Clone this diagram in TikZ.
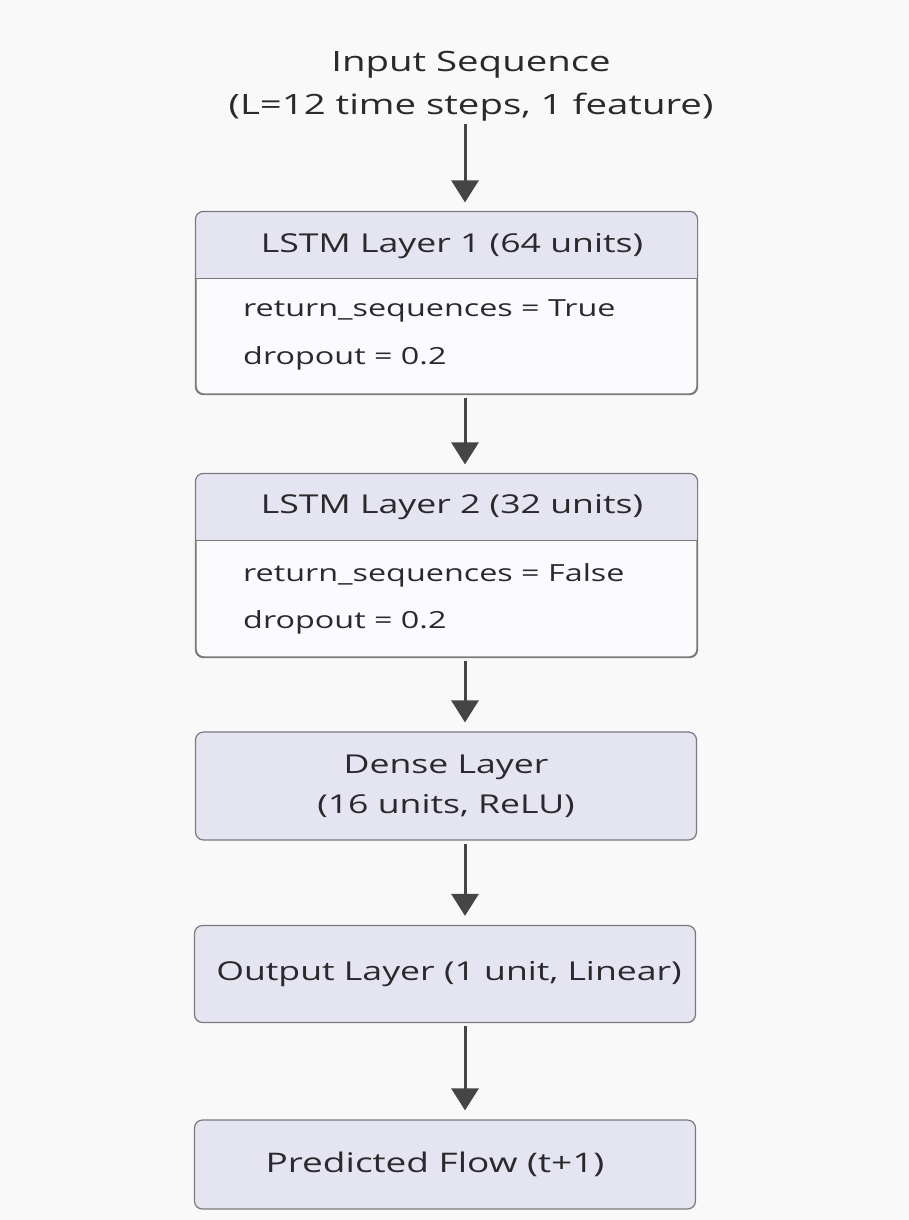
\documentclass[tikz,border=0pt]{standalone}
\usepackage{fontspec}
\setmainfont{Open Sans}[FakeStretch=1.37]
\usetikzlibrary{arrows.meta,calc}
\definecolor{pagebg}{HTML}{F9F9FA}
\definecolor{headfill}{HTML}{E4E5F1}
\definecolor{bodyfill}{HTML}{FBFBFD}
\definecolor{edge}{HTML}{7A7A7E}
\definecolor{ink}{HTML}{2A2A2C}
\definecolor{arrowc}{HTML}{454547}
\tikzset{
  layerbox/.style={draw=edge, line width=1.2pt, rounded corners=8pt, fill=bodyfill,
    minimum width=501pt, inner sep=0pt},
  solidbox/.style={layerbox, fill=headfill, text=ink},
  label/.style={text=ink, font=\fontsize{26}{30}\selectfont, inner sep=0pt},
  param/.style={label, anchor=west, font=\fontsize{23.6}{28}\selectfont},
  flow/.style={draw=arrowc, line width=3pt,
    -{Triangle[width=27pt,length=22pt]}, shorten <=3pt, shorten >=9pt},
}
\begin{document}
\begin{tikzpicture}[x=1pt,y=-1pt]
  \fill[pagebg] (0,0) rectangle (909,1220);
  \useasboundingbox (0,0) rectangle (909,1220);

  % input description
  \node[label, align=center, font=\fontsize{28}{43}\selectfont] (inp) at (471,86)
    {Input Sequence\\(L=12 time steps, 1 feature)};

  % first LSTM layer
  \node[layerbox, minimum height=182pt] (l1) at (446.5,303) {};
  \begin{scope}
    \clip[rounded corners=8pt] (l1.north west) rectangle (l1.south east);
    \fill[headfill] (l1.north west) rectangle ($(l1.north east)+(0,67)$);
  \end{scope}
  \draw[edge, line width=1.2pt] ($(l1.north west)+(0,67)$) -- ($(l1.north east)+(0,67)$);
  \draw[edge, line width=1.2pt, rounded corners=8pt] (l1.north west) rectangle (l1.south east);
  \node[label] (l1h) at (452,246) {LSTM Layer 1 (64 units)};
  \node[param] (l1a) at (243,311) {return\_sequences = True};
  \node[param] (l1b) at (243,358) {dropout = 0.2};

  % second LSTM layer
  \node[layerbox, minimum height=183pt] (l2) at (446.5,565.5) {};
  \begin{scope}
    \clip[rounded corners=8pt] (l2.north west) rectangle (l2.south east);
    \fill[headfill] (l2.north west) rectangle ($(l2.north east)+(0,67)$);
  \end{scope}
  \draw[edge, line width=1.2pt] ($(l2.north west)+(0,67)$) -- ($(l2.north east)+(0,67)$);
  \draw[edge, line width=1.2pt, rounded corners=8pt] (l2.north west) rectangle (l2.south east);
  \node[label] (l2h) at (452,507) {LSTM Layer 2 (32 units)};
  \node[param] (l2a) at (243,575) {return\_sequences = False};
  \node[param] (l2b) at (243,622) {dropout = 0.2};

  % dense, output and prediction
  \node[solidbox, minimum height=108pt, align=center,
        font=\fontsize{26}{40}\selectfont] (dense) at (446,786)
    {Dense Layer\\(16 units, ReLU)};
  \node[solidbox, minimum height=97pt,
        font=\fontsize{26}{30}\selectfont] (out) at (445,974)
    {\hspace*{8pt}Output Layer (1 unit, Linear)};
  \node[solidbox, minimum height=89pt,
        font=\fontsize{27}{30}\selectfont] (pred) at (445,1164.5)
    {Predicted Flow (t+1)\hspace*{20pt}};

  % connectors
  \draw[flow] ([xshift=-6pt]inp.south) -- ([xshift=18.5pt]l1.north);
  \draw[flow] ([xshift=18.5pt]l1.south) -- ([xshift=18.5pt]l2.north);
  \draw[flow] ([xshift=18.5pt]l2.south) -- ([xshift=19pt]dense.north);
  \draw[flow] ([xshift=19pt]dense.south) -- ([xshift=20pt]out.north);
  \draw[flow] ([xshift=20pt]out.south) -- ([xshift=20pt]pred.north);
\end{tikzpicture}
\end{document}
